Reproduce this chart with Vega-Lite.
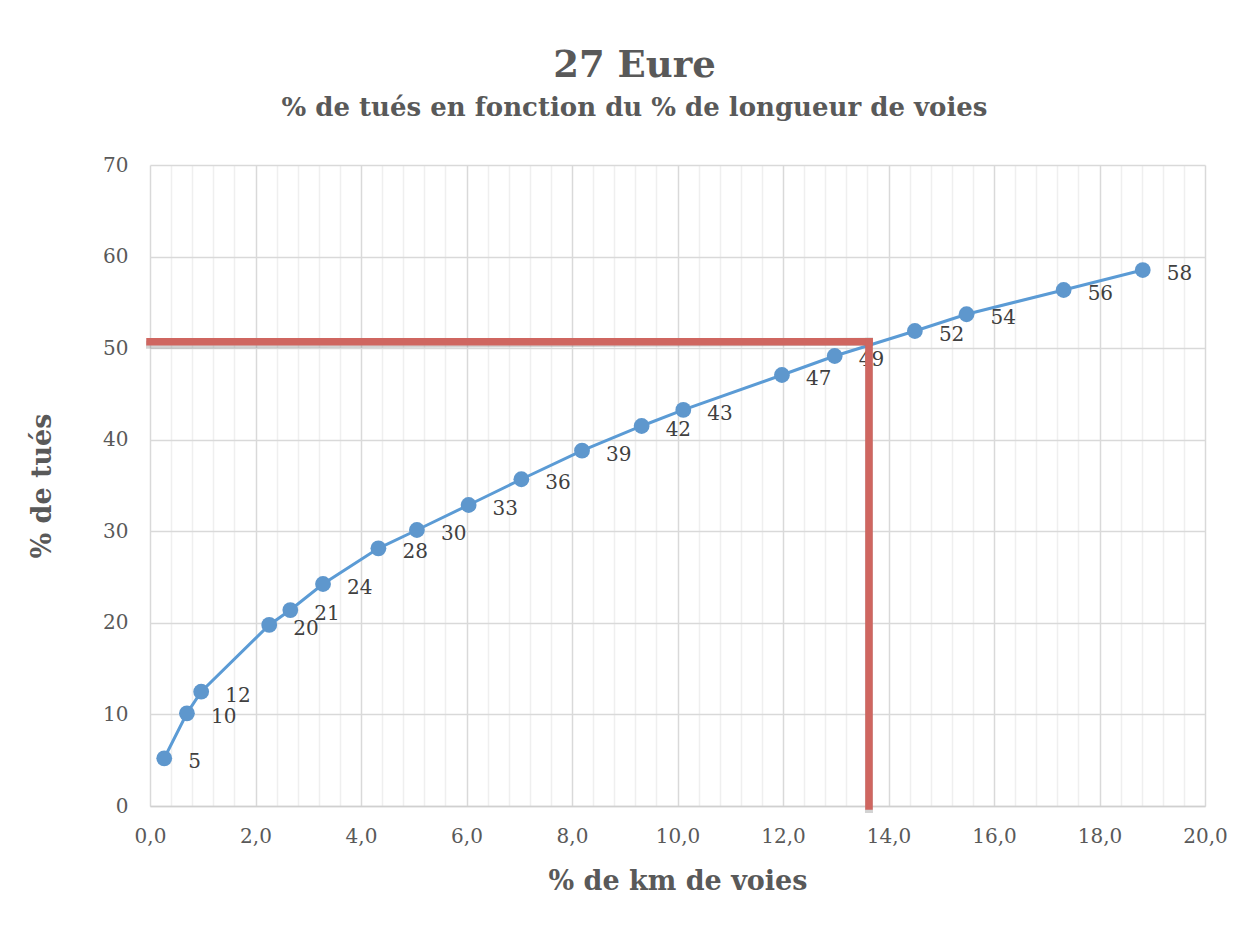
{
  "$schema": "https://vega.github.io/schema/vega-lite/v6.json",
  "autosize": {"type": "none"},
  "width": 1055,
  "height": 641,
  "padding": {"left": 150, "top": 165, "right": 46, "bottom": 120},
  "background": "white",
  "config": {
    "font": "DejaVu Serif",
    "view": {"stroke": null},
    "title": {"color": "#595959", "font": "DejaVu Serif", "subtitleFont": "DejaVu Serif", "subtitleColor": "#595959"}
  },
  "title": {
    "text": "27 Eure",
    "subtitle": "% de tués en fonction du % de longueur de voies",
    "fontSize": 37,
    "fontWeight": "bold",
    "subtitleFontSize": 26,
    "subtitleFontWeight": "bold",
    "subtitlePadding": 10,
    "anchor": "middle",
    "dx": -43,
    "offset": 33
  },
  "datasets": {
    "pts": [
      {"km": 0.27, "tues": 5.21, "label": "5"},
      {"km": 0.70, "tues": 10.12, "label": "10"},
      {"km": 0.97, "tues": 12.48, "label": "12"},
      {"km": 2.26, "tues": 19.77, "label": "20"},
      {"km": 2.66, "tues": 21.40, "label": "21"},
      {"km": 3.28, "tues": 24.24, "label": "24"},
      {"km": 4.33, "tues": 28.14, "label": "28"},
      {"km": 5.06, "tues": 30.14, "label": "30"},
      {"km": 6.04, "tues": 32.87, "label": "33"},
      {"km": 7.04, "tues": 35.68, "label": "36"},
      {"km": 8.19, "tues": 38.80, "label": "39"},
      {"km": 9.32, "tues": 41.50, "label": "42"},
      {"km": 10.11, "tues": 43.25, "label": "43"},
      {"km": 11.98, "tues": 47.07, "label": "47"},
      {"km": 12.98, "tues": 49.14, "label": "49"},
      {"km": 14.50, "tues": 51.87, "label": "52"},
      {"km": 15.48, "tues": 53.70, "label": "54"},
      {"km": 17.32, "tues": 56.35, "label": "56"},
      {"km": 18.82, "tues": 58.53, "label": "58"}
    ],
    "ref": [
      {"x1": 0, "x2": 13.63, "y1": 50.7, "y2": 50.7},
      {"x1": 13.63, "x2": 13.63, "y1": 0, "y2": 50.7}
    ]
  },
  "layer": [
    {
      "data": {"name": "pts"},
      "mark": {"type": "line", "color": "#5B9BD5", "strokeWidth": 3},
      "encoding": {
        "x": {
          "field": "km", "type": "quantitative",
          "scale": {"domain": [0, 20], "nice": false, "zero": false},
          "axis": {
            "title": "% de km de voies",
            "titleFontSize": 27, "titleFontWeight": "bold", "titleColor": "#595959", "titlePadding": 22,
            "tickCount": 100,
            "values": [0,0.4,0.8,1.2,1.6,2,2.4,2.8,3.2,3.6,4,4.4,4.8,5.2,5.6,6,6.4,6.8,7.2,7.6,8,8.4,8.8,9.2,9.6,10,10.4,10.8,11.2,11.6,12,12.4,12.8,13.2,13.6,14,14.4,14.8,15.2,15.6,16,16.4,16.8,17.2,17.6,18,18.4,18.8,19.2,19.6,20],
            "labelExpr": "abs(datum.value - round(datum.value/2)*2) < 0.01 ? replace(format(datum.value, '.1f'), '.', ',') : ''",
            "labelFontSize": 20, "labelColor": "#595959", "labelPadding": 20, "labelFlush": false, "labelOverlap": false,
            "ticks": false,
            "domainColor": "#D0D0D0", "domainWidth": 1.5,
            "grid": true,
            "gridColor": {"condition": {"test": "abs(datum.value - round(datum.value/2)*2) < 0.01", "value": "#D9D9D9"}, "value": "#EFEFEF"},
            "gridWidth": 1.5
          }
        },
        "y": {
          "field": "tues", "type": "quantitative",
          "scale": {"domain": [0, 70], "nice": false},
          "axis": {
            "title": "% de tués",
            "titleFontSize": 27, "titleFontWeight": "bold", "titleColor": "#595959", "titlePadding": 46,
            "values": [0, 10, 20, 30, 40, 50, 60, 70],
            "labelFontSize": 20, "labelColor": "#595959", "labelPadding": 22,
            "ticks": false, "domain": false,
            "grid": true, "gridColor": "#D9D9D9", "gridWidth": 1.5
          }
        }
      }
    },
    {
      "data": {"name": "pts"},
      "mark": {"type": "point", "filled": true, "shape": "circle", "size": 250, "color": "#5E97CD", "opacity": 1},
      "encoding": {
        "x": {"field": "km", "type": "quantitative"},
        "y": {"field": "tues", "type": "quantitative"}
      }
    },
    {
      "data": {"name": "pts"},
      "mark": {"type": "text", "align": "left", "baseline": "middle", "dx": 24, "dy": 4, "fontSize": 20, "color": "#404040", "font": "DejaVu Serif"},
      "encoding": {
        "x": {"field": "km", "type": "quantitative"},
        "y": {"field": "tues", "type": "quantitative"},
        "text": {"field": "label", "type": "nominal"}
      }
    },
    {
      "data": {"name": "ref"},
      "mark": {"type": "rule", "color": "#808080", "strokeWidth": 8, "opacity": 0.35, "yOffset": 3, "strokeCap": "square"},
      "encoding": {
        "x": {"field": "x1", "type": "quantitative"},
        "x2": {"field": "x2"},
        "y": {"field": "y1", "type": "quantitative"},
        "y2": {"field": "y2"}
      }
    },
    {
      "data": {"name": "ref"},
      "mark": {"type": "rule", "color": "#CF6660", "strokeWidth": 7.5, "strokeCap": "square"},
      "encoding": {
        "x": {"field": "x1", "type": "quantitative"},
        "x2": {"field": "x2"},
        "y": {"field": "y1", "type": "quantitative"},
        "y2": {"field": "y2"}
      }
    }
  ]
}
